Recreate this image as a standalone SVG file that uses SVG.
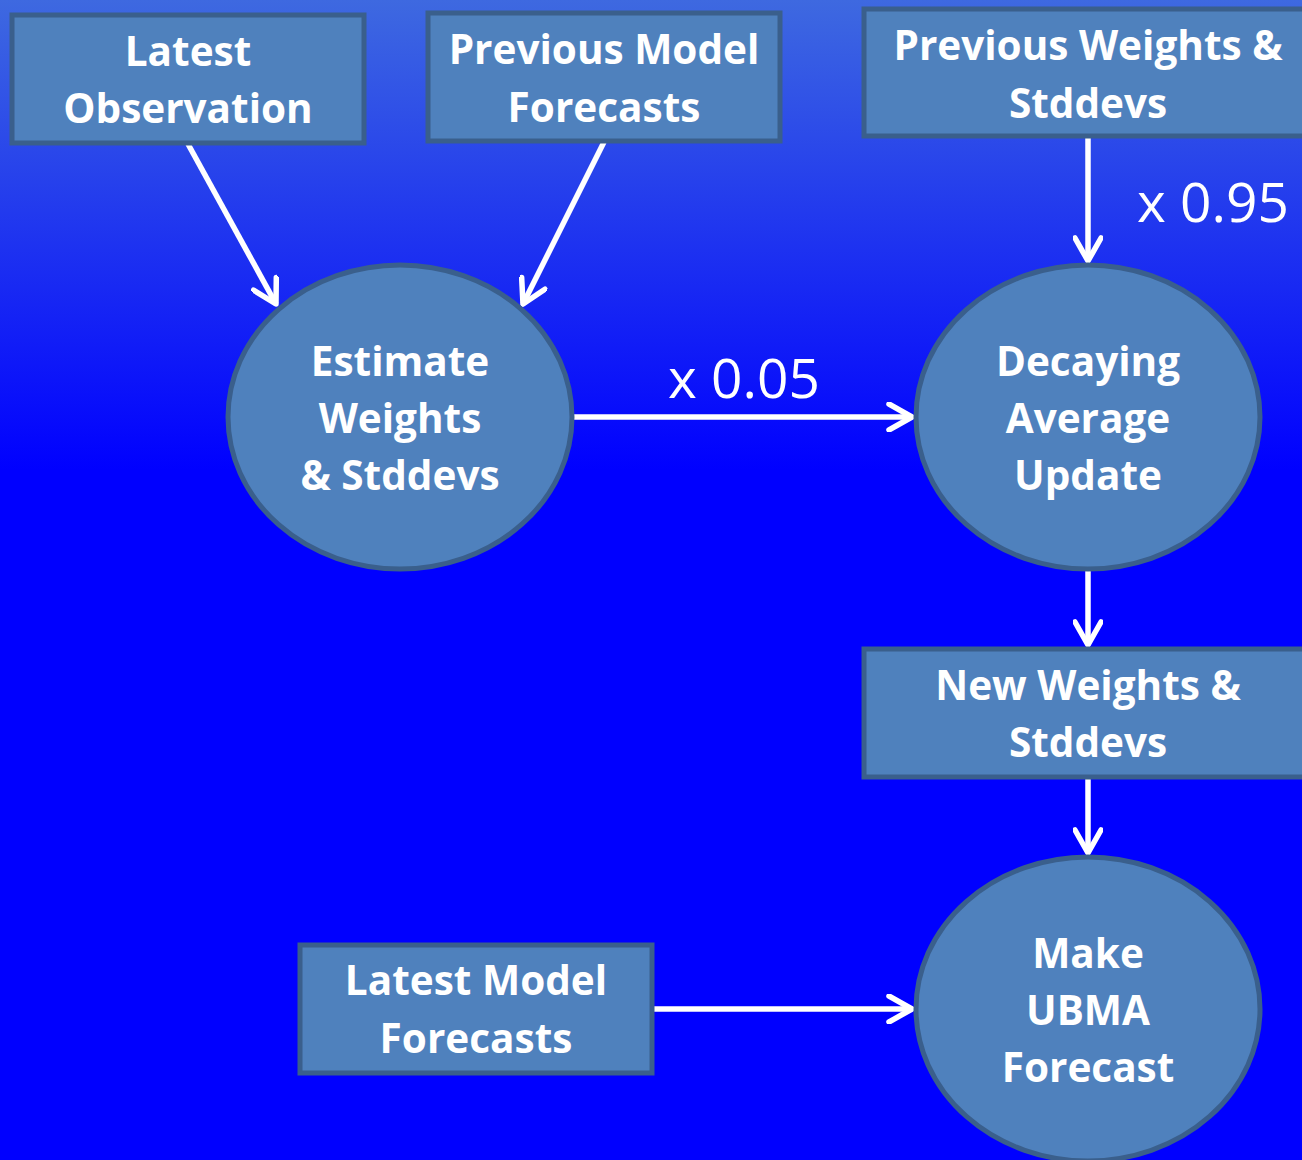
<svg xmlns="http://www.w3.org/2000/svg" width="1302" height="1160" viewBox="0 0 1302 1160">
  <style>
    .box { fill: #4f81bd; stroke: #3a5f8c; stroke-width: 5; }
    .lbl { font-family: "Open Sans", "Liberation Sans", sans-serif; font-weight: bold; font-size: 40.5px; fill: #ffffff; text-anchor: middle; }
    .mul { font-family: "Open Sans", "Liberation Sans", sans-serif; font-size: 55px; fill: #ffffff; }
    .conn { stroke: #ffffff; stroke-width: 5.5; fill: none; marker-end: url(#arrow); }
  </style>
  <defs>
    <linearGradient id="bg" gradientUnits="userSpaceOnUse" x1="0" y1="0" x2="0" y2="470">
      <stop offset="0" stop-color="#3e69e0"/>
      <stop offset="1" stop-color="#0000ff"/>
    </linearGradient>
    <marker id="arrow" viewBox="0 0 30 30" markerWidth="30" markerHeight="30" markerUnits="userSpaceOnUse" refX="27" refY="15" orient="auto">
      <path d="M4,2 L27,15 L4,28" fill="none" stroke="#ffffff" stroke-width="5.5" stroke-linecap="round" stroke-linejoin="round"/>
    </marker>
  </defs>
  <rect x="0" y="0" width="1302" height="1160" fill="url(#bg)"/>

  <g id="connectors">
    <line class="conn" x1="188" y1="144" x2="276" y2="304"/>
    <line class="conn" x1="604" y1="142" x2="523" y2="304"/>
    <line class="conn" x1="1088" y1="138" x2="1088" y2="261"/>
    <line class="conn" x1="573" y1="417" x2="912" y2="417"/>
    <line class="conn" x1="1088" y1="571" x2="1088" y2="645"/>
    <line class="conn" x1="1088" y1="779" x2="1088" y2="853"/>
    <line class="conn" x1="654" y1="1009" x2="912" y2="1009"/>
    <text class="mul" x="1137" y="222">x 0.95</text>
    <text class="mul" x="668" y="398">x 0.05</text>
  </g>

  <g id="latest-observation">
    <rect class="box" x="12" y="15" width="352" height="128"/>
    <text class="lbl" x="188" y="66">Latest</text>
    <text class="lbl" x="188" y="123">Observation</text>
  </g>
  <g id="previous-model-forecasts">
    <rect class="box" x="428" y="13" width="352" height="128"/>
    <text class="lbl" x="604" y="64">Previous Model</text>
    <text class="lbl" x="604" y="122">Forecasts</text>
  </g>
  <g id="previous-weights">
    <rect class="box" x="864" y="9" width="452" height="127"/>
    <text class="lbl" x="1088" y="60">Previous Weights &amp;</text>
    <text class="lbl" x="1088" y="118">Stddevs</text>
  </g>
  <g id="estimate-weights">
    <ellipse class="box" cx="400" cy="417" rx="172" ry="152"/>
    <text class="lbl" x="400" y="376">Estimate</text>
    <text class="lbl" x="400" y="433">Weights</text>
    <text class="lbl" x="400" y="490">&amp; Stddevs</text>
  </g>
  <g id="decaying-average">
    <ellipse class="box" cx="1088" cy="417" rx="172" ry="152"/>
    <text class="lbl" x="1088" y="376">Decaying</text>
    <text class="lbl" x="1088" y="433">Average</text>
    <text class="lbl" x="1088" y="490">Update</text>
  </g>
  <g id="new-weights">
    <rect class="box" x="864" y="649" width="452" height="128"/>
    <text class="lbl" x="1088" y="700">New Weights &amp;</text>
    <text class="lbl" x="1088" y="757">Stddevs</text>
  </g>
  <g id="make-ubma">
    <ellipse class="box" cx="1088" cy="1009" rx="172" ry="152"/>
    <text class="lbl" x="1088" y="968">Make</text>
    <text class="lbl" x="1088" y="1025">UBMA</text>
    <text class="lbl" x="1088" y="1082">Forecast</text>
  </g>
  <g id="latest-model-forecasts">
    <rect class="box" x="300" y="945" width="352" height="128"/>
    <text class="lbl" x="476" y="995">Latest Model</text>
    <text class="lbl" x="476" y="1053">Forecasts</text>
  </g>
</svg>
